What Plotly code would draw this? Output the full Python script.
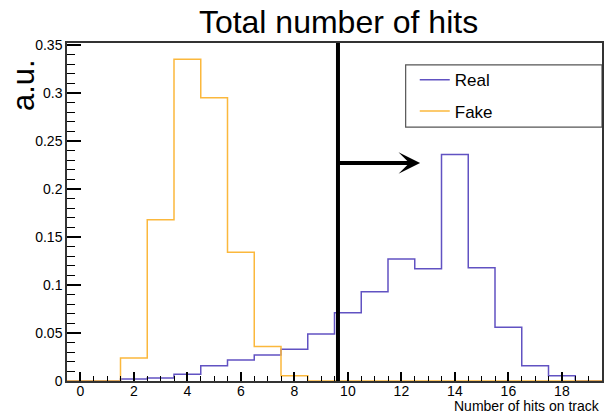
import plotly.graph_objects as go

# Bin centers (number of hits), width 1
bin_centers = list(range(20))
real_values = [0, 0, 0.002, 0.003, 0.007, 0.016, 0.022, 0.027, 0.033, 0.049,
               0.071, 0.093, 0.127, 0.117, 0.236, 0.118, 0.056, 0.016, 0.0055, 0]
fake_values = [0, 0, 0.024, 0.168, 0.335, 0.295, 0.134, 0.036, 0.0055, 0,
               0, 0, 0, 0, 0, 0, 0, 0, 0, 0]
series_names = ["Real", "Fake"]
x_tick_values = [0, 2, 4, 6, 8, 10, 12, 14, 16, 18]
y_tick_values = [0, 0.05, 0.1, 0.15, 0.2, 0.25, 0.3, 0.35]
y_tick_labels = ["0", "0.05", "0.1", "0.15", "0.2", "0.25", "0.3", "0.35"]
cut_value = 9.63
arrow_end = 12.7
arrow_level = 0.227

real_color = "#6152c2"
fake_color = "#fbb83c"
FONT = "Liberation Sans, Arial, sans-serif"


def step_xy(centers, values):
    edges = [c - 0.5 for c in centers] + [centers[-1] + 0.5]
    ys = list(values) + [values[-1]]
    return edges, ys


fig = go.Figure()
for name, vals, col in [(series_names[0], real_values, real_color),
                        (series_names[1], fake_values, fake_color)]:
    xs, ys = step_xy(bin_centers, vals)
    fig.add_trace(go.Scatter(x=xs, y=ys, mode="lines", name=name, legendgroup=name,
                             line=dict(color=col, width=1.5, shape="hv")))

# legend frame
fig.add_shape(type="rect", xref="paper", yref="paper", x0=0.633, x1=1.0,
              y0=0.751, y1=0.935, line=dict(color="#555", width=1.2),
              fillcolor="white", layer="below")

fig.add_shape(type="line", xref="x", yref="paper", x0=cut_value, x1=cut_value,
              y0=0, y1=1, line=dict(color="black", width=4))
fig.add_annotation(x=arrow_end, y=arrow_level, ax=cut_value, ay=arrow_level,
                   xref="x", yref="y", axref="x", ayref="y", text="",
                   showarrow=True, arrowhead=3, arrowsize=0.9, arrowwidth=4,
                   arrowcolor="black")

fig.add_annotation(text="Number of hits on track", xref="paper", yref="paper",
                   x=1.0, y=-0.074, xanchor="right", yanchor="middle", showarrow=False,
                   font=dict(family=FONT, size=14, color="black"))
fig.add_annotation(text="a.u.", xref="paper", yref="paper",
                   x=-0.080, y=0.876, xanchor="center", yanchor="middle", showarrow=False,
                   textangle=-90, font=dict(family=FONT, size=31, color="black"))

fig.update_layout(
    width=607, height=414,
    margin=dict(l=67, r=3, t=43, b=33),
    paper_bgcolor="white", plot_bgcolor="white",
    font=dict(family=FONT, size=14, color="black"),
    title=dict(text="Total number of hits", x=338.5 / 607, xanchor="center",
               y=1 - 22 / 414, yanchor="middle", xref="container", yref="container",
               font=dict(family=FONT, size=32, color="black")),
    showlegend=True,
    legend=dict(x=0.650, y=0.943, xanchor="left", yanchor="top",
                bgcolor="rgba(0,0,0,0)", borderwidth=0,
                font=dict(family=FONT, size=17, color="black"),
                traceorder="grouped", tracegroupgap=6),
    xaxis=dict(range=[-0.5, 19.5], tickvals=x_tick_values, ticks="inside",
               ticklen=9, tickwidth=1.5, tickcolor="black", showgrid=False,
               zeroline=False, showline=True, linecolor="#333", linewidth=1.5,
               mirror=True, tickfont=dict(family=FONT, size=14),
               ticklabelstandoff=-4,
               minor=dict(dtick=0.5, ticks="inside", ticklen=5, tickwidth=1,
                          tickcolor="black", showgrid=False)),
    yaxis=dict(range=[0, 0.352], tickvals=y_tick_values, ticktext=y_tick_labels,
               ticks="inside", ticklen=14, tickwidth=1.5, tickcolor="black",
               showgrid=False, zeroline=False, showline=True, linecolor="#333",
               linewidth=1.5, mirror=True, tickfont=dict(family=FONT, size=14),
               minor=dict(dtick=0.01, tick0=0, ticks="inside", ticklen=8, tickwidth=1,
                          tickcolor="black", showgrid=False)),
)

fig.write_html("out.html", config={"displayModeBar": False},
               post_script="document.body.style.margin='0';")
